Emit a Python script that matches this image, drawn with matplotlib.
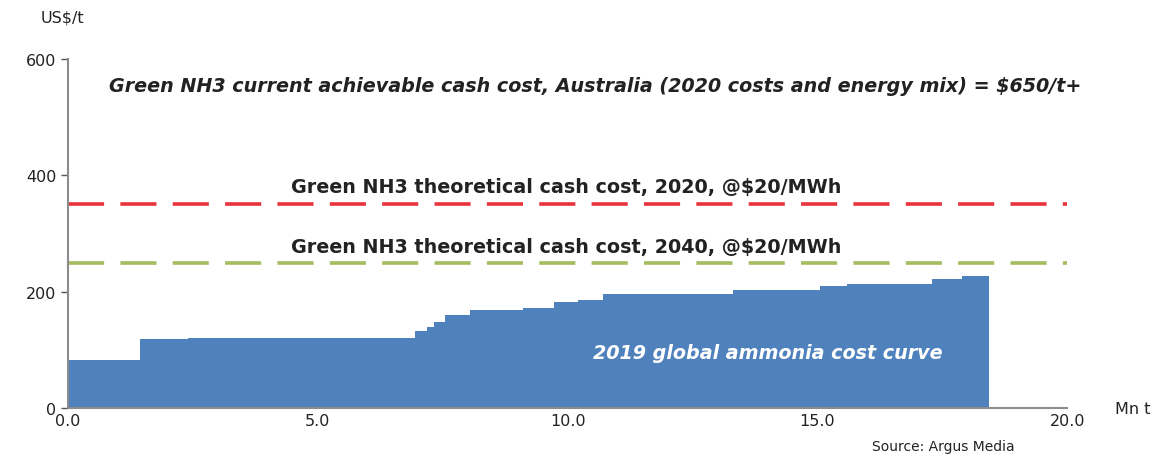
import matplotlib.pyplot as plt
import numpy as np

# 2019 global ammonia cost curve (cumulative capacity, Mn t -> cash cost, US$/t)
edges = [0.0, 1.44, 2.4, 6.95, 7.18, 7.32, 7.55, 8.05, 9.1, 9.72, 10.2, 10.71,
         13.3, 15.05, 15.6, 17.3, 17.9, 18.43]
costs = [83, 118, 121, 133, 140, 147, 160, 168, 171, 183, 186, 196,
         203, 209, 213, 222, 226]

cost_2020 = 350
cost_2040 = 250

x_ticks = [0, 5, 10, 15, 20]
y_ticks = [0, 200, 400, 600]

TEXT = "#222222"
BLUE = "#4F81BD"
RED = "#E8323C"
GREEN = "#A4BD5E"

plt.rcParams["font.family"] = ["DejaVu Sans"]

fig = plt.figure(figsize=(11.56, 4.6), dpi=100)
ax = fig.add_axes([0.0588, 0.111, 0.8645, 0.7586])

ax.stairs(costs, edges, fill=True, color=BLUE, linewidth=0)

ax.plot([0, 20], [cost_2020, cost_2020], color=RED, lw=2.6, dashes=(10, 4.5))
ax.plot([0, 20], [cost_2040, cost_2040], color=GREEN, lw=2.6, dashes=(10, 4.5))

ax.text(10.55, 555, "Green NH3 current achievable cash cost, Australia (2020 costs and energy mix) = $650/t+",
        ha="center", va="center", fontsize=13.8, fontweight="bold", fontstyle="italic", color=TEXT)
ax.text(9.97, 381, "Green NH3 theoretical cash cost, 2020, @$20/MWh",
        ha="center", va="center", fontsize=13.8, fontweight="bold", color=TEXT)
ax.text(9.97, 277, "Green NH3 theoretical cash cost, 2040, @$20/MWh",
        ha="center", va="center", fontsize=13.8, fontweight="bold", color=TEXT)
ax.text(14.0, 95, "2019 global ammonia cost curve",
        ha="center", va="center", fontsize=13.8, fontweight="bold", fontstyle="italic", color="white")

ax.set_xlim(0, 20)
ax.set_ylim(0, 600)
ax.set_xticks(x_ticks)
ax.set_xticklabels([f"{v:.1f}" for v in x_ticks])
ax.set_yticks(y_ticks)
ax.tick_params(colors="#555555", labelcolor=TEXT, labelsize=11.5, length=5, width=1)
ax.tick_params(axis="x", length=0, pad=4)

for side in ["top", "right"]:
    ax.spines[side].set_visible(False)
for side in ["left", "bottom"]:
    ax.spines[side].set_color("#8c8c8c")
    ax.spines[side].set_linewidth(1.5)

fig.text(0.054, 0.96, "US$/t", ha="center", va="center", fontsize=11.5, color=TEXT)
fig.text(0.980, 0.109, "Mn t", ha="center", va="center", fontsize=11.5, color=TEXT)
fig.text(0.878, 0.028, "Source: Argus Media", ha="right", va="center", fontsize=10, color=TEXT)

fig.savefig("out.png", dpi=100)
